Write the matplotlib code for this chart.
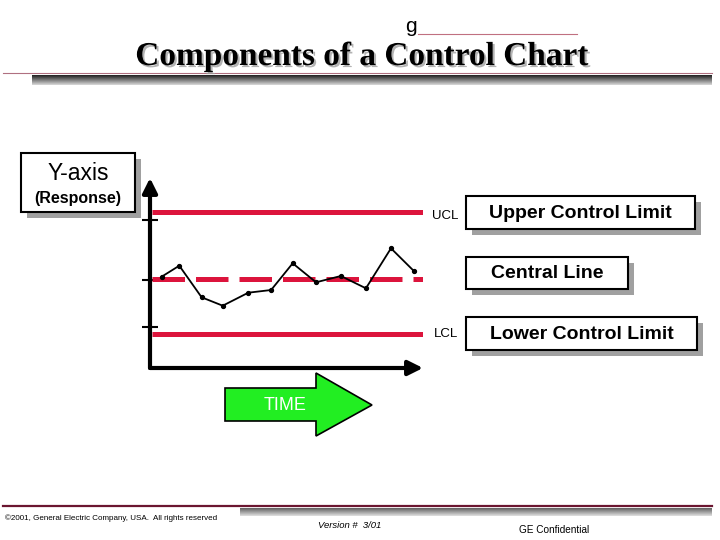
import matplotlib
matplotlib.use("Agg")
import matplotlib.pyplot as plt
import matplotlib.patches as mpatches
import matplotlib.patheffects as pe
import numpy as np

# control chart data (time in samples, response in arbitrary units)
time = [0.47, 1.18, 2.08, 2.93, 3.96, 4.88, 5.75, 6.69, 7.69, 8.70, 9.71, 10.62]
response = [9.13, 10.23, 7.07, 6.23, 7.53, 7.80, 10.47, 8.57, 9.20, 7.97, 11.97, 9.73]
ucl = 15.6
center = 8.9
lcl = 3.4
tick_levels = [14.8, 8.8, 4.1]

title = "Components of a Control Chart"
limit_labels = ["Upper Control Limit", "Central Line", "Lower Control Limit"]

RED = "#DC143C"

fig = plt.figure(figsize=(7.2, 5.4), dpi=100)

# background layer in pixel coords
bg = fig.add_axes([0, 0, 1, 1])
bg.set_xlim(0, 720)
bg.set_ylim(540, 0)
bg.axis("off")

def band(x0, x1, y0, y1, dark, light):
    grad = np.linspace(0, 1, 32).reshape(-1, 1)
    c0 = np.array(matplotlib.colors.to_rgb(dark))
    c1 = np.array(matplotlib.colors.to_rgb(light))
    img = c0 + (c1 - c0) * grad[..., None]
    img = np.repeat(img, 2, axis=1)
    bg.imshow(img, extent=(x0, x1, y1, y0), aspect="auto", zorder=1)

# header
bg.plot([3, 712], [73, 73], color="#B07080", lw=0.8, zorder=2)
band(32, 712, 75, 85, "#202020", "#d8d8d8")
bg.text(411, 26, "g", fontsize=15, family="Liberation Sans", ha="center", va="center")
bg.plot([418, 577], [34, 34], color="#C07080", lw=0.8)
bg.text(362, 65, title, fontsize=24, family="Liberation Serif", weight="bold",
        ha="center", va="baseline", color="black", zorder=4,
        path_effects=[pe.SimplePatchShadow(offset=(1.5, -1.5), shadow_rgbFace="#a0a0a0",
                                           alpha=0.8), pe.Normal()])

# footer
bg.plot([3, 712], [506, 506], color="#6B1530", lw=1.6, zorder=2)
band(240, 712, 508, 516, "#606060", "#e0e0e0")
bg.text(5, 518, "\u00a92001, General Electric Company, USA.  All rights reserved",
        fontsize=5.8, family="Liberation Sans", va="center")
bg.text(350, 526, "Version #  3/01", fontsize=6.8, family="Liberation Sans",
        style="italic", ha="center", va="center")
bg.text(554, 530, "GE Confidential", fontsize=7.2, family="Liberation Sans",
        ha="center", va="center")

def box(x0, y0, x1, y1, text, size, weight="bold"):
    bg.add_patch(mpatches.Rectangle((x0 + 6, y0 + 6), x1 - x0, y1 - y0,
                                    facecolor="#a0a0a0", edgecolor="none", zorder=2))
    bg.add_patch(mpatches.Rectangle((x0, y0), x1 - x0, y1 - y0,
                                    facecolor="white", edgecolor="black", lw=1.5, zorder=3))
    if text:
        bg.text((x0 + x1) / 2, (y0 + y1) / 2 + 1, text, fontsize=size, weight=weight,
                family="Liberation Sans", ha="center", va="center", zorder=4)

box(21, 153, 135, 212, None, 0)
bg.text(78, 173, "Y-axis", fontsize=16.5, family="Liberation Sans", ha="center",
        va="center", zorder=4)
bg.text(78, 198, "(Response)", fontsize=11.5, weight="bold", family="Liberation Sans",
        ha="center", va="center", zorder=4)

box(466, 196, 695, 229, limit_labels[0], 14)
box(466, 257, 628, 289, limit_labels[1], 14)
box(466, 317, 697, 350, limit_labels[2], 14)

bg.text(445, 216, "UCL", fontsize=9.5, family="Liberation Sans", ha="center", va="center")
bg.text(446, 334, "LCL", fontsize=9.5, family="Liberation Sans", ha="center", va="center")

# TIME arrow
arrow = mpatches.Polygon([(225, 388), (316, 388), (316, 373), (372, 405),
                          (316, 436), (316, 421), (225, 421)],
                         closed=True, facecolor="#22EE22", edgecolor="black", lw=1.2, zorder=3)
bg.add_patch(arrow)
bg.text(285, 405, "TIME", fontsize=13, color="white", family="Liberation Sans",
        ha="center", va="center", zorder=4)

# control chart axes
ax = fig.add_axes([150 / 720, (540 - 368) / 540, (423 - 150) / 720, (368 - 178) / 540])
ax.set_xlim(0, 11)
ax.set_ylim(0, 19)
ax.patch.set_alpha(0)
for s in ax.spines.values():
    s.set_visible(False)
ax.set_xticks([])
ax.set_yticks(tick_levels)
ax.set_yticklabels([])
ax.tick_params(axis="y", direction="inout", length=12, width=1.5, color="black")

ax.annotate("", xy=(0, 1), xytext=(0, 0), xycoords="axes fraction",
            arrowprops=dict(arrowstyle="-|>", lw=3, color="black", mutation_scale=22,
                            shrinkA=0, shrinkB=0))
ax.annotate("", xy=(1, 0), xytext=(0, 0), xycoords="axes fraction",
            arrowprops=dict(arrowstyle="-|>", lw=3, color="black", mutation_scale=22,
                            shrinkA=0, shrinkB=0))

ax.hlines([ucl, lcl], 0.07, 11, colors=RED, lw=3.6)
ax.plot([0.07, 11], [center, center], color=RED, lw=3.6, dashes=(6.5, 2.2))
ax.plot(time, response, color="black", lw=1.3, marker="o", markersize=2.8)

fig.savefig("out.png", dpi=100)
